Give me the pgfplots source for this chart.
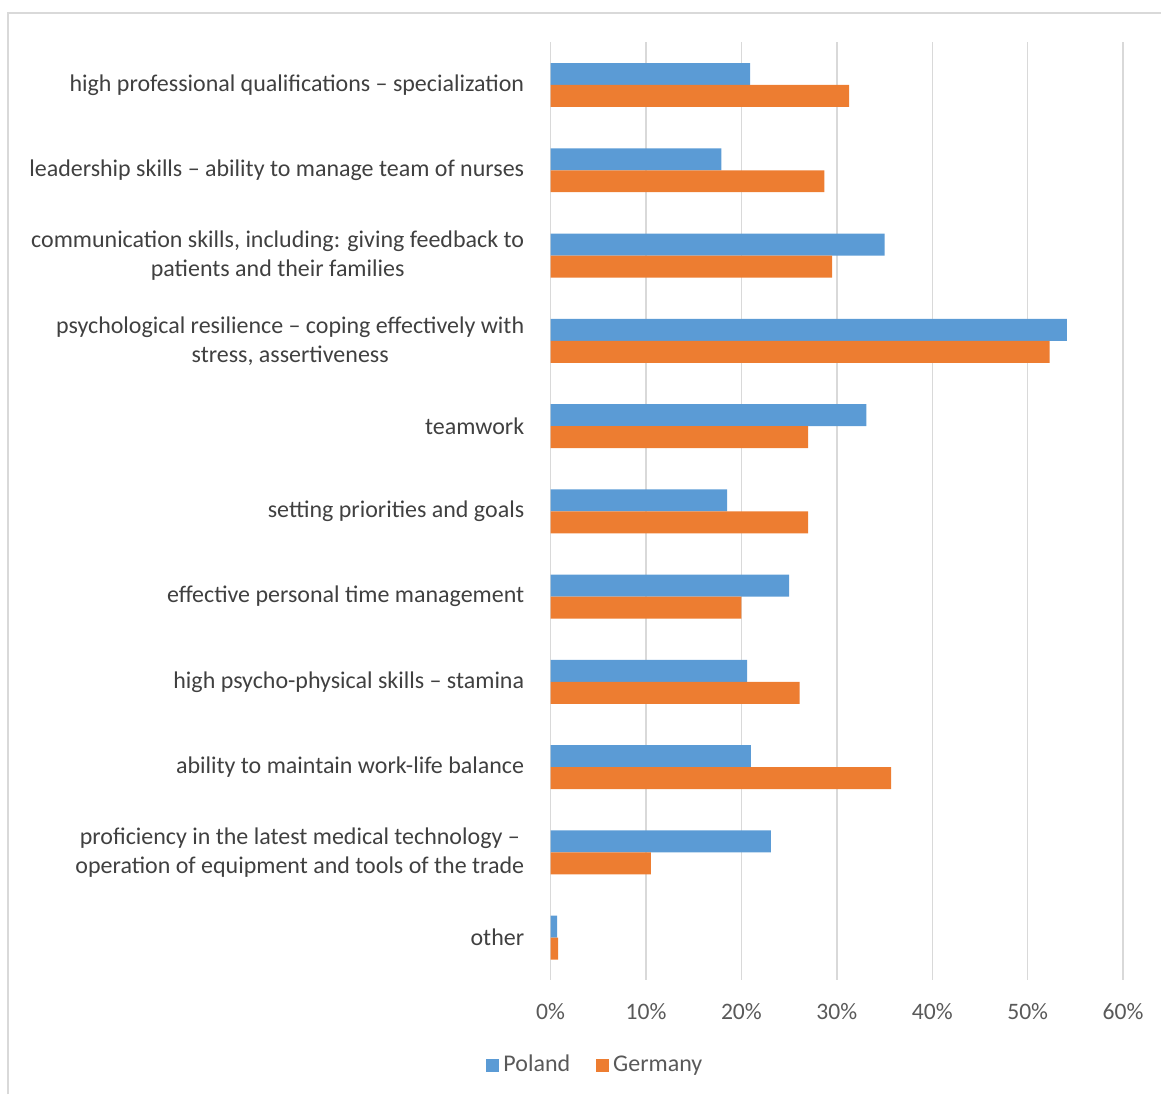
\documentclass[border=0pt]{standalone}
\usepackage{pgfplots}
\pgfplotsset{compat=1.18}
\usepackage{fontspec}
\setmainfont{Carlito}
\definecolor{pl}{HTML}{5B9BD5}
\definecolor{de}{HTML}{ED7D31}
\definecolor{gridc}{HTML}{D9D9D9}
\definecolor{lbl}{HTML}{404040}
\definecolor{tck}{HTML}{595959}
\begin{document}
\begin{tikzpicture}
\path (-275.5pt,-57pt) rectangle (305.5pt,490.5pt);
\draw[gridc, line width=0.9pt] (-271.5pt,-57pt) -- (-271.5pt,484pt) -- (305.5pt,484pt);
\begin{axis}[
  at={(0,0)}, anchor=south west,
  scale only axis, width=286.5pt, height=469.3pt,
  xbar, bar width=11pt,
  xmin=0, xmax=60, ymin=-0.5, ymax=10.5, y dir=reverse,
  axis line style={draw=none},
  major tick length=0pt,
  xmajorgrids, grid style={gridc, line width=0.75pt},
  xtick={0,10,20,30,40,50,60},
  /pgf/number format/assume math mode=true,
  xticklabel={\pgfmathprintnumber{\tick}\%},
  xticklabel style={font=\fontsize{11.8}{13}\selectfont, text=tck, anchor=center, yshift=-15.5pt},
  ytick={0,1,2,3,4,5,6,7,8,9,10},
  yticklabels={
    {high professional qualifications – specialization},
    {leadership skills – ability to manage team of nurses},
    {communication skills, including: giving feedback to\\patients and their families},
    {psychological resilience – coping effectively with\\stress, assertiveness},
    {teamwork},
    {setting priorities and goals},
    {effective personal time management},
    {high psycho-physical skills – stamina},
    {ability to maintain work-life balance},
    {proficiency in the latest medical technology –\\operation of equipment and tools of the trade},
    {other}},
  yticklabel style={font=\fontsize{12}{14.5}\selectfont, text=lbl, align=center, anchor=east, inner sep=0pt, xshift=-13pt},
  legend style={draw=none, at={(0.080,-0.0905)}, anchor=center, legend columns=2,
    font=\fontsize{12}{14}\selectfont, text=tck,
    /tikz/every even column/.append style={column sep=11pt}},
  legend image code/.code={\fill[#1] (0pt,-3.25pt) rectangle (6.5pt,3.25pt);},
]
\addplot[fill=pl, draw=none, bar shift=5.5pt] coordinates {
(20.9,0) (17.9,1) (35.0,2) (54.1,3) (33.1,4) (18.5,5) (25.0,6) (20.6,7) (21.0,8) (23.1,9) (0.7,10)};
\addlegendentry{Poland}
\addplot[fill=de, draw=none, bar shift=-5.5pt] coordinates {
(31.3,0) (28.7,1) (29.5,2) (52.3,3) (27.0,4) (27.0,5) (20.0,6) (26.1,7) (35.7,8) (10.5,9) (0.8,10)};
\addlegendentry{Germany}
\end{axis}
\end{tikzpicture}
\end{document}
